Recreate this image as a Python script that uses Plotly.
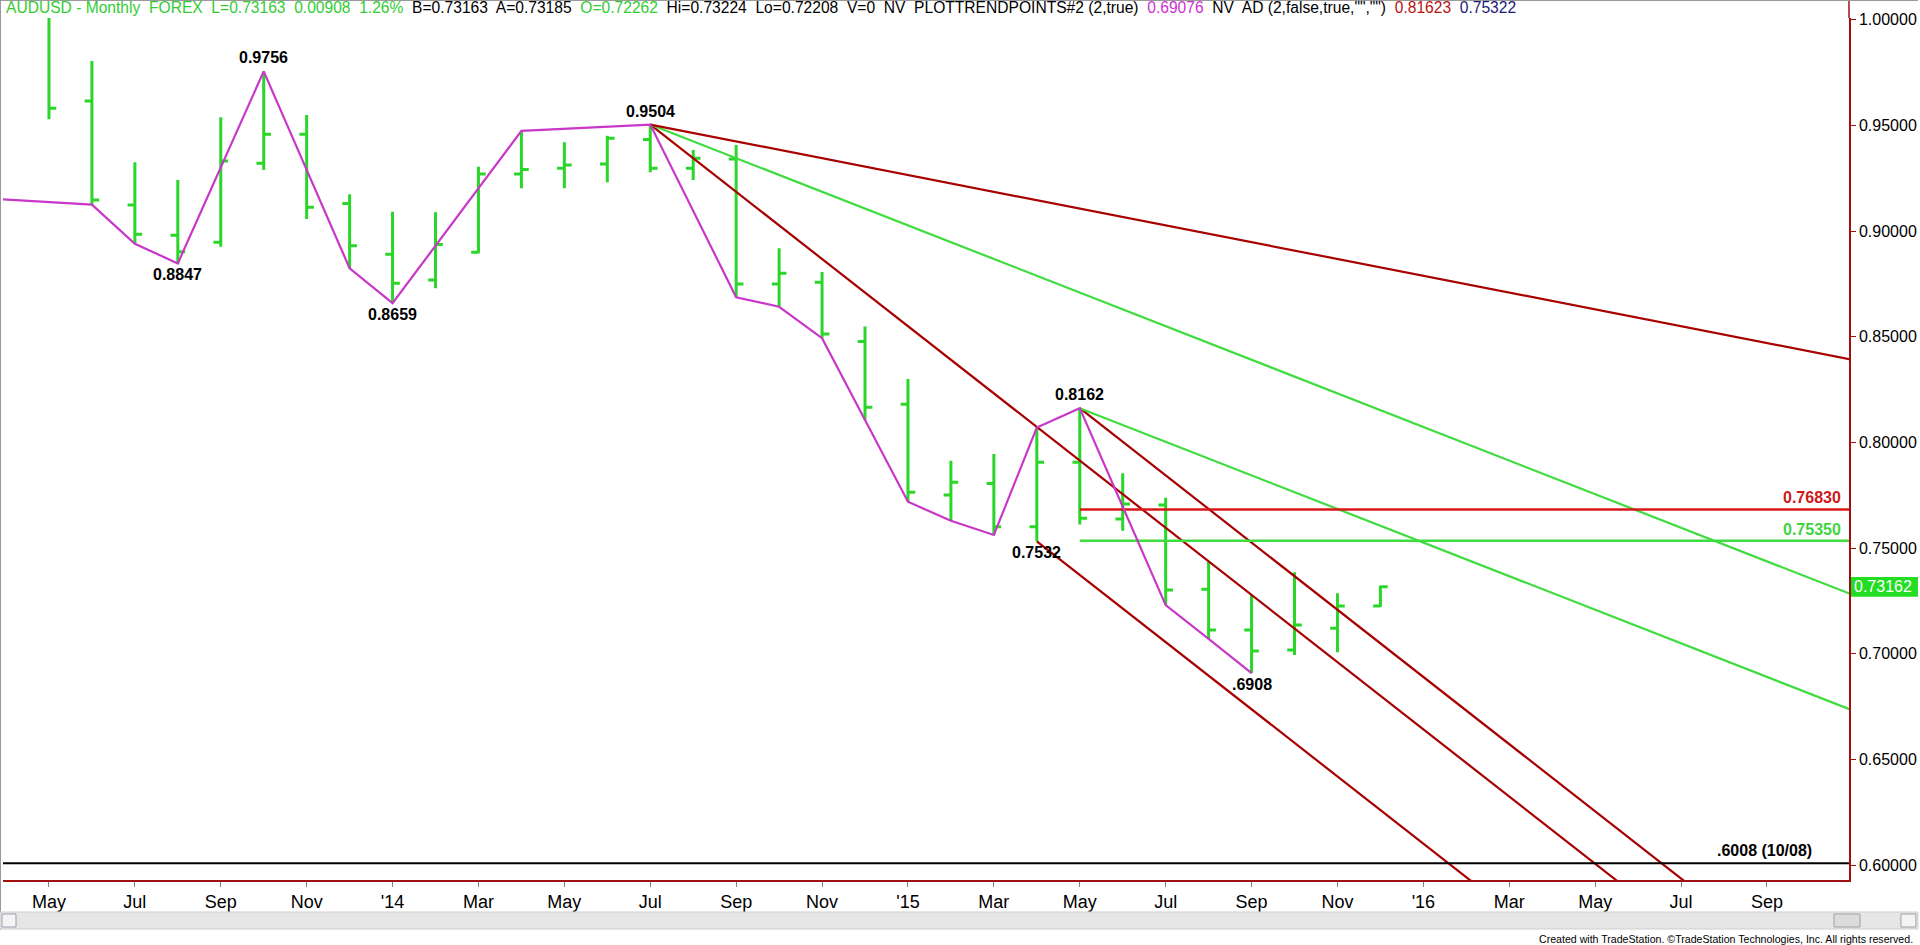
import plotly.graph_objects as go

# ---------------- data ----------------
# month index: 0 = May 2013 ... 31 = Dec 2015 (monthly AUDUSD bars)
bar_months = list(range(32))
bar_open = [1.0350, 0.9616, 0.9124, 0.8980, 0.8947, 0.9321, 0.9458, 0.9131,
            0.8890, 0.8769, 0.8900, 0.9270, 0.9297, 0.9318, 0.9434, 0.9297,
            0.9341, 0.8750, 0.8758, 0.8477, 0.8180, 0.7751, 0.7806, 0.7601,
            0.7906, 0.7637, 0.7704, 0.7305, 0.7112, 0.7017, 0.7120, 0.72262]
bar_high = [1.0390, 0.9805, 0.9326, 0.9242, 0.9539, 0.9756, 0.9549, 0.9174,
            0.9092, 0.9089, 0.9305, 0.9474, 0.9420, 0.9451, 0.9504, 0.9384,
            0.9408, 0.8919, 0.8806, 0.8548, 0.8300, 0.7913, 0.7945, 0.8070,
            0.8162, 0.7854, 0.7738, 0.7440, 0.7278, 0.7385, 0.7286, 0.73224]
bar_low = [0.9529, 0.9125, 0.8940, 0.8847, 0.8926, 0.9289, 0.9057, 0.8824,
           0.8659, 0.8729, 0.8895, 0.9203, 0.9203, 0.9231, 0.9278, 0.9242,
           0.8687, 0.8642, 0.8493, 0.8106, 0.7719, 0.7629, 0.7562, 0.7532,
           0.7612, 0.7582, 0.7230, 0.7070, 0.6908, 0.6994, 0.7007, 0.72208]
bar_close = [0.9581, 0.9147, 0.8985, 0.8902, 0.9332, 0.9458, 0.9113, 0.8931,
             0.8753, 0.8937, 0.9270, 0.9292, 0.9313, 0.9439, 0.9297, 0.9345,
             0.8750, 0.8800, 0.8513, 0.8166, 0.7764, 0.7811, 0.7601, 0.7906,
             0.7641, 0.7708, 0.7301, 0.7112, 0.7013, 0.7136, 0.7226, 0.73163]

tick_months = list(range(0, 41, 2))
tick_labels = ["May", "Jul", "Sep", "Nov", "'14", "Mar", "May", "Jul", "Sep", "Nov",
               "'15", "Mar", "May", "Jul", "Sep", "Nov", "'16", "Mar", "May", "Jul", "Sep"]

# PlotTrendPoints (magenta swing line)
swing_months = [-2, 1, 2, 3, 5, 7, 8, 11, 14, 16, 17, 18, 20, 21, 22, 23, 24, 26, 27, 28]
swing_prices = [0.9161, 0.9125, 0.8940, 0.8847, 0.9756, 0.8824, 0.8659, 0.9474, 0.9504,
                0.8687, 0.8642, 0.8493, 0.7719, 0.7629, 0.7562, 0.8070, 0.8162, 0.7230,
                0.7070, 0.6908]

# pivot labels
pivot_months = [5, 3, 8, 14, 24, 23, 28]
pivot_prices = [0.9756, 0.8847, 0.8659, 0.9504, 0.8162, 0.7532, 0.6908]
pivot_texts = ["0.9756", "0.8847", "0.8659", "0.9504", "0.8162", "0.7532", ".6908"]
pivot_above = [True, False, False, True, True, False, False]

# angle (fan) lines
angle_unit = 0.0159  # price per month for 1x1
fan_start_months = [14, 14, 14, 24, 24, 23]
fan_start_prices = [0.9504, 0.9504, 0.9504, 0.8162, 0.8162, 0.7532]
fan_ratios = [1.0, 0.5, 0.25, 1.0, 0.5, 1.0]
fan_kinds = ["red", "green", "red", "red", "green", "red"]

retrace_levels = [0.7683, 0.7535]
retrace_labels = ["0.76830", "0.75350"]
retrace_start = 24
support_level = 0.6008
support_label = ".6008 (10/08)"
last_price = 0.73162

header_parts = [
    ("AUDUSD - Monthly  FOREX  L=0.73163  0.00908  1.26%", "#33cc33"),
    ("  B=0.73163  A=0.73185", "#000000"),
    ("  O=0.72262", "#33cc33"),
    ("  Hi=0.73224  Lo=0.72208  V=0  NV  PLOTTRENDPOINTS#2 (2,true)", "#000000"),
    ("  0.69076", "#cc33cc"),
    ("  NV  AD (2,false,true,\"\",\"\")", "#000000"),
    ("  0.81623", "#bb1111"),
    ("  0.75322", "#1a1a7a"),
]

# ---------------- styling ----------------
W, H = 1920, 945
PL, PR, PT, PB = 3, 1851, 18, 880
X_RANGE = [-1.07, 41.91]
Y_RANGE = [0.59290, 1.00085]
BAR_GREEN = "#2bd62b"
LINE_GREEN = "#3fdc3f"
DARK_RED = "#a80000"
BRIGHT_RED = "#d81818"
MAGENTA = "#c837c8"
AXIS_RED = "#a01010"
FONT = "Liberation Sans, Arial, sans-serif"
NARROW = "Liberation Sans Narrow, Arial Narrow, Liberation Sans, Arial, sans-serif"


def px_x(p):
    return (p - PL) / (PR - PL)


def px_y(p):
    return (PB - p) / (PB - PT)


fig = go.Figure()

# angle lines
x_end = 42.5
for sm, sp, r, k in zip(fan_start_months, fan_start_prices, fan_ratios, fan_kinds):
    fig.add_trace(go.Scatter(
        x=[sm, x_end], y=[sp, sp - angle_unit * r * (x_end - sm)],
        mode="lines", line=dict(color=DARK_RED if k == "red" else LINE_GREEN, width=2.2),
        hoverinfo="skip", showlegend=False))

# retracement levels
for lvl, col in zip(retrace_levels, [BRIGHT_RED, LINE_GREEN]):
    fig.add_trace(go.Scatter(x=[retrace_start, x_end], y=[lvl, lvl], mode="lines",
                             line=dict(color=col, width=2.5), hoverinfo="skip", showlegend=False))

# support line
fig.add_trace(go.Scatter(x=[-3, x_end], y=[support_level, support_level], mode="lines",
                         line=dict(color="#000000", width=2), hoverinfo="skip", showlegend=False))

# swing line
fig.add_trace(go.Scatter(x=swing_months, y=swing_prices, mode="lines",
                         line=dict(color=MAGENTA, width=2.2), hoverinfo="skip", showlegend=False))

# price bars
fig.add_trace(go.Ohlc(
    x=bar_months, open=bar_open, high=bar_high, low=bar_low, close=bar_close,
    increasing=dict(line=dict(color=BAR_GREEN, width=3)),
    decreasing=dict(line=dict(color=BAR_GREEN, width=3)),
    tickwidth=0.17, hoverinfo="skip", showlegend=False))

annotations = []
for m, p, t, above in zip(pivot_months, pivot_prices, pivot_texts, pivot_above):
    annotations.append(dict(
        x=m, y=p, xref="x", yref="y", text=t, showarrow=False,
        xanchor="center", yanchor="bottom" if above else "top",
        yshift=3 if above else -1,
        font=dict(family=FONT, size=16, color="#000000", weight="bold")))

for lvl, lab, col in zip(retrace_levels, retrace_labels, ["#cc1a1a", "#3fd43f"]):
    annotations.append(dict(
        x=41.78, y=lvl, xref="x", yref="y", text=lab, showarrow=False,
        xanchor="right", yanchor="bottom", yshift=1,
        font=dict(family=FONT, size=16, color=col, weight="bold")))

annotations.append(dict(
    x=41.1, y=support_level, xref="x", yref="y", text=support_label, showarrow=False,
    xanchor="right", yanchor="bottom", yshift=2,
    font=dict(family=FONT, size=16, color="#000000", weight="bold")))

# last price box label
annotations.append(dict(
    x=px_x(1885), y=last_price, xref="paper", yref="y", text=f"{last_price:.5f}",
    showarrow=False, xanchor="center", yanchor="middle",
    font=dict(family=FONT, size=16, color="#ffffff")))

# header
header_html = "".join(f"<span style='color:{c}'>{t}</span>" for t, c in header_parts)
annotations.append(dict(
    x=px_x(4), y=1, xref="paper", yref="paper", text=header_html, showarrow=False,
    xanchor="left", yanchor="bottom", yshift=0,
    font=dict(family=NARROW, size=15.6, color="#000000")))

# footer
annotations.append(dict(
    x=px_x(1917), y=px_y(939), xref="paper", yref="paper",
    text="Created with TradeStation. ©TradeStation Technologies, Inc. All rights reserved.",
    showarrow=False, xanchor="right", yanchor="middle",
    font=dict(family=NARROW, size=10.6, color="#000000")))

shapes = [
    # last price box
    dict(type="rect", xref="paper", yref="y", x0=1.0, x1=px_x(1920),
         y0=last_price - 0.0047, y1=last_price + 0.0047,
         fillcolor="#22dd22", line=dict(width=0), layer="below"),
    # right axis line up to the top of the window
    dict(type="line", xref="paper", yref="paper", x0=1, x1=1, y0=1, y1=px_y(0),
         line=dict(color=AXIS_RED, width=1.5)),
    # window frame
    dict(type="line", xref="paper", yref="paper", x0=px_x(0), x1=px_x(1920),
         y0=px_y(0.5), y1=px_y(0.5), line=dict(color="#9a9a9a", width=1)),
    dict(type="line", xref="paper", yref="paper", x0=px_x(0.5), x1=px_x(0.5),
         y0=px_y(0), y1=px_y(930), line=dict(color="#9a9a9a", width=1)),
    # scrollbar
    dict(type="rect", xref="paper", yref="paper", x0=px_x(0), x1=px_x(1920),
         y0=px_y(929), y1=px_y(912), fillcolor="#e6e6e6", line=dict(color="#cfcfcf", width=1)),
    dict(type="rect", xref="paper", yref="paper", x0=px_x(2), x1=px_x(16),
         y0=px_y(927), y1=px_y(914), fillcolor="#f4f4f4", line=dict(color="#9aa0b0", width=1)),
    dict(type="rect", xref="paper", yref="paper", x0=px_x(1836), x1=px_x(1862),
         y0=px_y(927), y1=px_y(914), fillcolor="#dcdcdc", line=dict(color="#a0a0a0", width=1)),
    dict(type="rect", xref="paper", yref="paper", x0=px_x(1903), x1=px_x(1918),
         y0=px_y(927), y1=px_y(914), fillcolor="#f4f4f4", line=dict(color="#a0a0a0", width=1)),
]

fig.update_layout(
    width=W, height=H, autosize=False,
    margin=dict(l=PL, r=W - PR, t=PT, b=H - PB, pad=0),
    paper_bgcolor="#ffffff", plot_bgcolor="#ffffff",
    showlegend=False, annotations=annotations, shapes=shapes,
    hovermode=False,
)
fig.update_xaxes(
    range=X_RANGE, tickmode="array", tickvals=tick_months, ticktext=tick_labels,
    showgrid=False, zeroline=False, showline=True, linecolor=AXIS_RED, linewidth=1.5,
    ticks="outside", ticklen=5, tickcolor="#808080",
    tickfont=dict(family=NARROW, size=18, color="#000000"),
    rangeslider=dict(visible=False), fixedrange=True,
)
fig.update_yaxes(
    range=Y_RANGE, side="right", tickmode="linear", tick0=0.6, dtick=0.05,
    tickformat=".5f", showgrid=False, zeroline=False, showline=True,
    linecolor=AXIS_RED, linewidth=1.5, ticks="outside", ticklen=5, tickcolor=AXIS_RED,
    tickfont=dict(family=FONT, size=16, color="#000000"), fixedrange=True,
)

fig.write_html("out.html", config={"displayModeBar": False},
               post_script="document.body.style.margin='0';")
